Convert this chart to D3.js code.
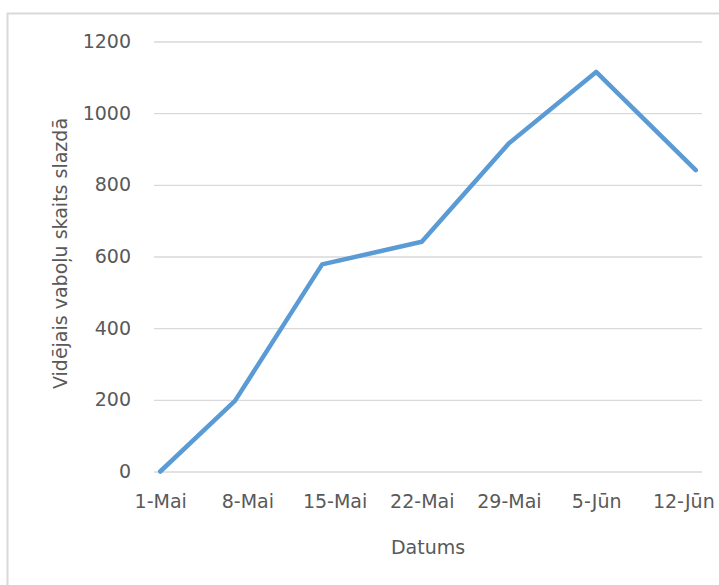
<!DOCTYPE html>
<html>
<head>
<meta charset="utf-8">
<script src="https://cdn.jsdelivr.net/npm/d3@7"></script>
<style>
  html, body { margin: 0; padding: 0; background: #fff; }
  svg { display: block; }
  text { font-family: "DejaVu Sans", sans-serif; fill: #595959; }
</style>
</head>
<body>
<svg id="chart" width="719" height="585"></svg>
<script>
// Sampling dates and the average beetle count per trap
const sampleDates = ["2014-05-01", "2014-05-07", "2014-05-14", "2014-05-22", "2014-05-29", "2014-06-05", "2014-06-13"];
const beetleCounts = [0, 197, 578, 641, 916, 1115, 841];

// Weekly date ticks and their Latvian labels
const tickDates = ["2014-05-01", "2014-05-08", "2014-05-15", "2014-05-22", "2014-05-29", "2014-06-05", "2014-06-12"];
const tickLabels = ["1-Mai", "8-Mai", "15-Mai", "22-Mai", "29-Mai", "5-Jūn", "12-Jūn"];
const yTicks = [0, 200, 400, 600, 800, 1000, 1200];

const parse = d3.utcParse("%Y-%m-%d");
const svg = d3.select("#chart");

// Chart frame
svg.append("rect")
  .attr("x", 7.5).attr("y", 13.5)
  .attr("width", 740).attr("height", 600)
  .attr("fill", "#fff")
  .attr("stroke", "#d9d9d9").attr("stroke-width", 2);

const plot = { left: 154, right: 702, top: 41.5, bottom: 471.5 };
const halfDay = 12 * 3600 * 1000;
const firstDay = parse(sampleDates[0]);
const lastDay = parse(sampleDates[sampleDates.length - 1]);

const x = d3.scaleUtc()
  .domain([new Date(+firstDay - halfDay), new Date(+lastDay + halfDay)])
  .range([plot.left, plot.right]);
const y = d3.scaleLinear().domain([0, 1200]).range([plot.bottom, plot.top]);

// Horizontal gridlines and value labels
const yAxis = d3.axisLeft(y).tickValues(yTicks)
  .tickSize(-(plot.right - plot.left)).tickPadding(23)
  .tickFormat(d3.format("d"));
const gy = svg.append("g").attr("transform", `translate(${plot.left},0)`).call(yAxis);
gy.select(".domain").remove();
gy.selectAll(".tick line").attr("stroke", "#d9d9d9").attr("stroke-width", 1.3);
gy.selectAll(".tick text").style("font-size", "19px").attr("fill", "#595959");

// Date axis labels
const xAxis = d3.axisBottom(x)
  .tickValues(tickDates.map(parse))
  .tickSize(0).tickPadding(23)
  .tickFormat((d, i) => tickLabels[i]);
const gx = svg.append("g").attr("transform", `translate(0,${plot.bottom})`).call(xAxis);
gx.select(".domain").remove();
gx.selectAll(".tick text").style("font-size", "19px").attr("fill", "#595959");

// Series line
const line = d3.line()
  .x((d, i) => x(parse(sampleDates[i])))
  .y(d => y(d));
svg.append("path")
  .datum(beetleCounts)
  .attr("d", line)
  .attr("fill", "none")
  .attr("stroke", "#5b9bd5")
  .attr("stroke-width", 4.5)
  .attr("stroke-linejoin", "round")
  .attr("stroke-linecap", "round");

// Axis titles
svg.append("text")
  .attr("x", (plot.left + plot.right) / 2).attr("y", 554)
  .attr("text-anchor", "middle")
  .style("font-size", "19px")
  .text("Datums");

svg.append("text")
  .attr("transform", `translate(67,${(plot.top + plot.bottom) / 2 - 3}) rotate(-90)`)
  .attr("text-anchor", "middle")
  .style("font-size", "19px")
  .text("Vidējais vaboļu skaits slazdā");
</script>
</body>
</html>
